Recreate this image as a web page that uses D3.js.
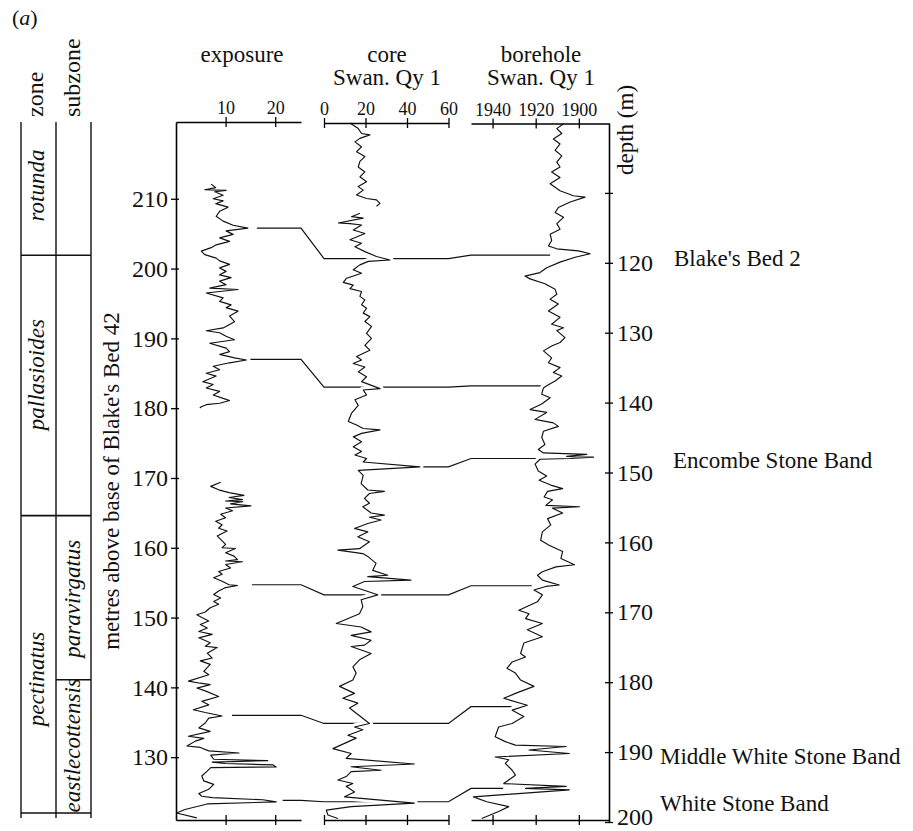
<!DOCTYPE html>
<html>
<head>
<meta charset="utf-8">
<script src="https://cdn.jsdelivr.net/npm/d3@7/dist/d3.min.js"></script>
<style>
  body { margin: 0; background: #fff; }
  svg text { font-family: "Liberation Serif", "Times New Roman", serif; fill: #111; }
</style>
</head>
<body>
<div id="log-chart"></div>
<script>
// exposure log: [metres above base of Blake's Bed 42, value]
var exposureUpper = [[212.1,7.1],[211.6,8.0],[211.3,5.8],[211.2,10.1],[211.0,7.8],[210.5,9.5],[210.0,7.5],[209.7,9.5],[209.3,8.0],[208.8,10.5],[208.2,8.8],[207.5,8.1],[206.8,9.5],[206.2,11.5],[205.8,14.5],[205.4,10.1],[204.9,11.5],[204.4,8.8],[203.9,10.8],[203.4,8.1],[203.0,7.1],[202.5,5.1],[202.0,5.8],[201.5,8.1],[201.1,8.8],[200.6,10.8],[200.1,8.8],[199.6,10.1],[199.1,8.8],[198.7,11.1],[198.2,8.8],[197.7,10.1],[197.2,6.8],[197.0,12.5],[196.5,6.1],[195.8,9.5],[195.3,8.8],[194.8,11.1],[194.4,10.1],[193.9,12.5],[193.2,10.8],[192.4,11.8],[192.0,10.8],[191.5,9.5],[191.1,6.1],[190.8,8.8],[190.3,10.1],[189.8,11.8],[189.3,6.8],[188.6,10.1],[188.1,10.8],[187.7,8.8],[187.2,11.8],[186.9,14.2],[186.5,10.8],[186.0,7.5],[185.5,8.8],[185.0,6.1],[184.6,8.1],[183.8,5.4],[183.4,7.5],[182.9,6.1],[182.4,8.8],[181.9,7.5],[181.4,9.5],[181.1,10.8],[180.7,8.8],[180.5,6.1],[180.2,5.1],[180.0,4.8]];
var exposureLower = [[169.4,9.0],[168.8,7.0],[168.3,8.6],[167.9,10.7],[167.5,13.7],[167.2,10.7],[166.9,13.4],[166.7,10.0],[166.6,13.5],[166.3,11.0],[166.0,15.1],[165.7,10.0],[165.3,11.4],[164.8,9.0],[164.3,10.0],[163.8,8.0],[163.3,9.3],[162.8,8.6],[162.4,10.3],[161.7,8.3],[161.2,9.0],[160.5,10.0],[160.0,9.3],[159.9,12.0],[159.3,10.0],[158.8,11.7],[158.3,12.4],[158.1,10.0],[158.0,13.4],[157.6,10.0],[157.1,11.0],[156.6,8.6],[156.2,9.3],[155.7,7.6],[155.2,9.3],[154.7,10.7],[154.6,12.4],[154.3,10.0],[153.8,8.6],[153.3,7.6],[152.8,9.0],[152.3,7.6],[151.9,8.6],[151.4,6.9],[150.8,5.9],[150.4,4.2],[150.0,5.2],[149.5,6.6],[149.0,4.9],[148.5,6.3],[148.0,4.6],[147.6,7.3],[147.1,4.6],[146.4,6.9],[145.9,5.9],[145.7,8.3],[144.9,6.3],[144.2,7.3],[143.8,4.9],[143.3,6.9],[142.3,5.6],[141.8,6.6],[140.9,2.5],[140.6,4.9],[140.4,6.9],[139.9,4.2],[139.5,5.9],[138.7,8.6],[138.0,5.2],[137.5,6.6],[136.8,3.5],[136.4,5.9],[135.9,9.3],[135.6,6.6],[134.9,5.9],[134.2,4.6],[133.7,6.9],[133.0,2.5],[132.7,5.6],[132.3,3.9],[131.6,2.2],[131.4,4.9],[130.9,6.6],[130.6,12.7],[130.3,7.0],[129.7,7.6],[129.5,18.5],[129.3,7.3],[129.1,10.0],[128.9,19.5],[128.6,20.2],[128.5,7.0],[128.0,6.3],[127.3,5.2],[126.6,5.6],[126.1,7.6],[125.4,6.6],[124.8,4.6],[124.4,5.2],[124.2,7.3],[123.9,17.5],[123.6,20.2],[123.3,6.3],[122.5,1.8],[122.0,0.1],[121.3,4.2]];

// core Swan. Qy 1: [depth m, value]
var coreUpper = [[100.0,12.5],[100.8,16.5],[101.5,18.1],[101.7,22.1],[102.2,17.3],[102.7,14.9],[103.4,18.1],[104.1,15.7],[104.8,19.7],[105.5,17.3],[106.3,16.5],[107.0,19.7],[107.7,17.3],[108.4,20.5],[109.1,16.5],[109.6,18.9],[110.3,15.7],[110.8,20.5],[111.0,25.3],[111.5,27.0],[111.9,25.3]];
var coreLower = [[112.9,17.3],[113.4,13.3],[113.6,18.9],[114.3,6.9],[114.4,12.5],[114.6,18.1],[115.3,14.1],[115.8,19.7],[116.7,12.5],[117.2,18.1],[117.7,14.9],[118.4,19.7],[119.1,25.3],[119.6,31.8],[119.8,21.3],[120.3,17.3],[121.0,14.1],[121.5,18.1],[122.2,10.9],[122.8,9.3],[123.2,14.1],[123.7,12.5],[124.1,18.1],[124.8,17.3],[125.3,19.7],[126.0,18.1],[126.5,20.5],[127.2,18.9],[127.7,22.1],[128.4,19.7],[129.1,22.9],[130.1,20.5],[130.8,22.9],[131.8,19.7],[132.5,22.1],[133.4,15.7],[133.9,18.1],[134.4,14.1],[134.9,19.7],[135.6,16.5],[136.3,20.5],[137.0,18.1],[138.0,27.0],[138.2,18.9],[138.9,20.5],[139.6,14.9],[140.4,16.5],[141.5,13.3],[142.7,11.7],[143.2,15.7],[143.7,18.9],[143.9,27.0],[144.4,18.1],[144.9,14.1],[145.6,18.1],[146.3,14.1],[147.0,18.1],[147.5,14.9],[148.0,20.5],[148.5,18.9],[149.2,46.2],[149.7,16.5],[150.4,18.9],[151.6,17.9],[152.5,21.1],[152.7,29.1],[153.0,21.9],[153.7,19.5],[154.4,21.9],[154.9,18.7],[155.8,22.7],[156.1,29.1],[156.4,21.9],[156.8,27.5],[157.3,21.1],[158.0,14.7],[158.5,21.1],[159.2,16.3],[159.9,21.9],[160.9,17.1],[161.1,6.7],[161.6,18.7],[162.0,21.1],[163.0,25.1],[164.0,23.5],[164.7,30.7],[164.9,21.1],[165.4,41.9],[165.6,19.5],[166.3,13.9],[167.5,25.9],[168.2,17.9],[169.2,18.7],[170.2,17.1],[171.6,5.9],[172.1,17.9],[172.8,22.7],[173.3,13.1],[174.0,22.7],[174.7,19.5],[174.9,13.1],[175.9,22.7],[176.8,17.1],[177.8,13.9],[178.7,15.5],[179.7,13.9],[180.6,7.5],[181.6,14.7],[182.3,9.1],[183.0,16.3],[183.7,12.3],[184.8,17.1],[185.9,21.9],[186.4,14.7],[186.8,18.7],[187.6,11.5],[188.0,15.5],[189.5,4.3],[190.2,13.1],[190.9,10.7],[191.7,43.5],[192.1,13.1],[192.6,27.5],[192.8,13.1],[193.5,10.7],[194.0,6.7],[194.5,13.9],[194.9,10.7],[195.7,14.7],[196.4,9.9],[197.3,43.5],[197.8,13.1],[198.3,1.1],[199.0,1.9],[199.5,6.7]];

// borehole Swan. Qy 1: [depth m, value]
var borehole = [[100.1,1907.1],[100.8,1910.2],[101.5,1907.9],[102.3,1911.8],[103.0,1908.7],[103.9,1911.0],[104.7,1907.9],[105.6,1910.2],[106.3,1908.7],[107.0,1912.6],[107.8,1908.7],[108.7,1913.3],[109.7,1908.7],[110.4,1902.5],[110.6,1897.1],[111.3,1904.0],[112.1,1909.5],[112.8,1911.0],[113.5,1907.1],[114.4,1910.2],[115.2,1908.7],[115.9,1913.3],[116.8,1912.6],[117.6,1914.1],[118.0,1910.2],[118.3,1900.2],[118.7,1894.7],[119.2,1901.7],[119.9,1908.7],[120.7,1914.9],[121.4,1918.0],[121.9,1925.0],[122.3,1922.6],[123.0,1915.7],[123.8,1911.0],[124.5,1910.2],[125.2,1913.3],[125.9,1909.5],[126.9,1914.1],[127.8,1908.7],[128.8,1912.6],[129.3,1907.1],[129.7,1910.2],[130.7,1906.4],[131.4,1908.7],[131.9,1912.6],[132.6,1916.4],[133.6,1912.6],[134.3,1914.1],[135.0,1908.7],[135.7,1911.8],[136.2,1907.9],[136.9,1911.0],[137.6,1914.9],[137.9,1916.4],[138.8,1917.2],[139.3,1913.3],[140.2,1917.2],[141.0,1922.6],[141.4,1914.9],[142.4,1920.3],[142.9,1911.8],[143.4,1909.5],[144.1,1916.4],[145.0,1917.2],[146.0,1915.7],[146.7,1918.8],[147.2,1916.4],[147.4,1896.3],[147.7,1905.6],[147.8,1893.2],[148.0,1904.0],[148.1,1918.0],[148.8,1920.3],[149.8,1918.8],[150.5,1914.9],[151.1,1918.4],[151.8,1913.0],[152.3,1907.5],[152.7,1914.5],[153.5,1916.1],[153.9,1912.2],[154.7,1915.3],[154.9,1899.7],[155.1,1912.2],[155.8,1907.5],[156.6,1914.5],[157.5,1913.0],[158.5,1916.9],[159.7,1917.7],[160.4,1913.8],[161.3,1907.5],[162.3,1908.3],[163.2,1902.0],[163.5,1910.6],[164.2,1916.9],[164.7,1919.2],[165.4,1916.9],[166.1,1909.1],[166.3,1915.3],[166.8,1920.8],[167.5,1916.9],[168.5,1919.2],[169.7,1927.8],[170.2,1923.1],[170.9,1924.7],[171.6,1916.9],[172.5,1923.9],[173.5,1916.9],[174.4,1925.5],[175.9,1927.0],[176.4,1924.7],[177.1,1930.9],[178.0,1933.3],[178.7,1929.4],[179.7,1927.0],[180.6,1920.8],[181.6,1929.4],[182.3,1934.8],[183.3,1923.9],[184.0,1930.9],[184.9,1925.5],[185.9,1930.9],[186.4,1937.2],[187.8,1938.8],[188.5,1934.1],[189.0,1929.4],[189.2,1905.9],[189.7,1923.1],[190.2,1904.4],[190.7,1938.8],[191.1,1932.5],[191.6,1934.1],[192.6,1930.9],[193.3,1929.4],[194.5,1934.8],[194.9,1905.9],[195.2,1924.7],[195.4,1904.4],[196.4,1948.9],[197.1,1942.7],[197.8,1932.5],[198.5,1937.2],[199.0,1941.1],[199.5,1945.0]];

// correlation lines between the three logs
var markerExposureHeight = [205.8, 187.0, null, 154.7, 136.0, 123.8];
var markerExposureStart = [16.3, 15.0, null, 15.3, 11.3, 21.5];
var markerCoreDepth = [119.4, 137.8, 149.2, 167.5, 185.9, 197.1];
var markerCoreStart = [0, 0, 47.7, 0, 0, 0];
var markerBoreholeDepth = [118.9, 137.6, 148.0, 166.2, 183.5, 195.2];
var markerBoreholeEnd = [1913.3, 1916.5, 1919.4, 1921.8, 1931.1, 1935.1];

// named beds on the right
var bedNames = ["Blake's Bed 2", "Encombe Stone Band", "Middle White Stone Band", "White Stone Band"];
var bedDepth = [119.3, 148.2, 190.6, 197.3];

// ammonite zones (metres above base of Blake's Bed 42)
var zoneNames = ["rotunda", "pallasioides", "pectinatus"];
var zoneTop = [221, 201.9, 164.6];
var zoneLabelAt = [211.9, 184.8, 141.2];
var subzoneNames = ["paravirgatus", "eastlecottensis"];
var subzoneTop = [164.6, 141.1];
var subzoneLabelAt = [152.7, 131.7];
var columnBase = 122;

// ticks
var heightTicks = [130, 140, 150, 160, 170, 180, 190, 200, 210];
var depthTicks = [110, 120, 130, 140, 150, 160, 170, 180, 190, 200];
var exposureTicks = [10, 20];
var coreTicks = [0, 20, 40, 60];
var boreholeTicks = [1940, 1920, 1900];

var width = 913, height = 831;
var serif = '"Liberation Serif", "Times New Roman", serif';

var svg = d3.select("#log-chart")
  .append("svg")
  .attr("width", width)
  .attr("height", height);

// scales
var yHeight = d3.scaleLinear().domain([121, 221]).range([820, 122]);
var yDepth = d3.scaleLinear().domain([100, 200]).range([123, 822]);
var xExposure = d3.scaleLinear().domain([0, 25.2]).range([176, 301]);
var xCore = d3.scaleLinear().domain([0, 60]).range([324, 448.5]);
var xBorehole = d3.scaleLinear().domain([1950, 1886]).range([471, 609]);

// correlation lines (drawn first so the logs cut through them)
var tie = d3.line();
markerCoreDepth.forEach(function (dc, i) {
  var pts = [];
  if (markerExposureHeight[i] !== null) {
    var ye = yHeight(markerExposureHeight[i]);
    pts.push([xExposure(markerExposureStart[i]), ye]);
    pts.push([xExposure(25.2), ye]);
    pts.push([xCore(0), yDepth(dc)]);
  } else {
    pts.push([xCore(markerCoreStart[i]), yDepth(dc)]);
  }
  pts.push([xCore(60), yDepth(dc)]);
  pts.push([xBorehole(1950), yDepth(markerBoreholeDepth[i])]);
  pts.push([xBorehole(markerBoreholeEnd[i]), yDepth(markerBoreholeDepth[i])]);
  svg.append("path")
    .attr("d", tie(pts))
    .attr("fill", "none")
    .attr("stroke", "#111")
    .attr("stroke-width", 1.2);
});

// the three logs
var exposureLine = d3.line()
  .x(function (d) { return xExposure(d[1]); })
  .y(function (d) { return yHeight(d[0]); });
var coreLine = d3.line()
  .x(function (d) { return xCore(d[1]); })
  .y(function (d) { return yDepth(d[0]); });
var boreholeLine = d3.line()
  .x(function (d) { return xBorehole(d[1]); })
  .y(function (d) { return yDepth(d[0]); });

var logs = [[exposureUpper, exposureLine], [exposureLower, exposureLine], [coreUpper, coreLine], [coreLower, coreLine], [borehole, boreholeLine]];

// white halo leaves the small breaks where tie lines meet a log
logs.forEach(function (s) {
  svg.append("path")
    .datum(s[0])
    .attr("d", s[1])
    .attr("fill", "none")
    .attr("stroke", "#fff")
    .attr("stroke-width", 7)
    .attr("stroke-linejoin", "round");
});
logs.forEach(function (s) {
  svg.append("path")
    .datum(s[0])
    .attr("d", s[1])
    .attr("fill", "none")
    .attr("stroke", "#111")
    .attr("stroke-width", 1.15)
    .attr("stroke-linejoin", "round");
});

// helper to make ticks cross the axis line
function crossTicks(g, horizontal, size) {
  g.selectAll(".tick line").attr(horizontal ? "y1" : "x1", size);
  g.select(".domain").attr("stroke-width", 1.6);
  g.selectAll(".tick line").attr("stroke-width", 1.3);
  g.attr("font-family", serif);
}

// top and bottom axes of the three panels
var topAxes = [
  { scale: xExposure, ticks: exposureTicks, y: 122 },
  { scale: xCore, ticks: coreTicks, y: 123 },
  { scale: xBorehole, ticks: boreholeTicks, y: 123.5 }
];
topAxes.forEach(function (a) {
  svg.append("g")
    .attr("transform", "translate(0," + a.y + ")")
    .call(d3.axisTop(a.scale).tickValues(a.ticks).tickSize(5).tickSizeOuter(0).tickPadding(3).tickFormat(d3.format("d")))
    .call(crossTicks, true, 5)
    .selectAll("text")
    .attr("font-size", "18px");

  svg.append("g")
    .attr("transform", "translate(0,820)")
    .call(d3.axisBottom(a.scale).tickValues(a.ticks).tickSize(5).tickSizeOuter(0).tickFormat(""))
    .call(crossTicks, true, -5);
});

// left axis
svg.append("g")
  .attr("transform", "translate(176,0)")
  .call(d3.axisLeft(yHeight).tickValues(heightTicks).tickSize(5).tickSizeOuter(0).tickPadding(3))
  .call(crossTicks, false, 3)
  .selectAll("text")
  .attr("font-size", "24px");

// right axis
svg.append("g")
  .attr("transform", "translate(609,0)")
  .call(d3.axisRight(yDepth).tickValues(depthTicks).tickSize(4).tickSizeOuter(0).tickPadding(4)
    .tickFormat(function (d) { return d === 110 ? "" : d; }))
  .call(crossTicks, false, -4)
  .selectAll("text")
  .attr("font-size", "24px")
  .attr("dy", function (d) { return d === 200 ? "0.1em" : "0.32em"; });

// zone columns
var zoneX = [21, 56, 91];
zoneX.forEach(function (x) {
  svg.append("line")
    .attr("x1", x).attr("x2", x)
    .attr("y1", yHeight(221)).attr("y2", yHeight(columnBase) + 5)
    .attr("stroke", "#111").attr("stroke-width", 1.4);
});
svg.append("line")
  .attr("x1", zoneX[0]).attr("x2", zoneX[2])
  .attr("y1", yHeight(columnBase)).attr("y2", yHeight(columnBase))
  .attr("stroke", "#111").attr("stroke-width", 1.4);
zoneTop.slice(1).forEach(function (h) {
  svg.append("line")
    .attr("x1", zoneX[0]).attr("x2", zoneX[2])
    .attr("y1", yHeight(h)).attr("y2", yHeight(h))
    .attr("stroke", "#111").attr("stroke-width", 1.6);
});
subzoneTop.slice(1).forEach(function (h) {
  svg.append("line")
    .attr("x1", zoneX[1]).attr("x2", zoneX[2])
    .attr("y1", yHeight(h)).attr("y2", yHeight(h))
    .attr("stroke", "#111").attr("stroke-width", 1.6);
});

zoneNames.forEach(function (name, i) {
  svg.append("text")
    .attr("transform", "translate(44," + yHeight(zoneLabelAt[i]) + ")rotate(-90)")
    .attr("text-anchor", "middle")
    .attr("font-style", "italic")
    .style("font-size", "23px")
    .text(name);
});
subzoneNames.forEach(function (name, i) {
  svg.append("text")
    .attr("transform", "translate(80," + yHeight(subzoneLabelAt[i]) + ")rotate(-90)")
    .attr("text-anchor", "middle")
    .attr("font-style", "italic")
    .style("font-size", "23px")
    .text(name);
});

// column headers
svg.append("text")
  .attr("transform", "translate(43,117)rotate(-90)")
  .style("font-size", "24px")
  .text("zone");
svg.append("text")
  .attr("transform", "translate(80,117)rotate(-90)")
  .style("font-size", "24px")
  .text("subzone");

var panelTitle = [
  { x: 242, lines: ["exposure"] },
  { x: 387, lines: ["core", "Swan. Qy 1"] },
  { x: 541, lines: ["borehole", "Swan. Qy 1"] }
];
panelTitle.forEach(function (p) {
  p.lines.forEach(function (t, j) {
    svg.append("text")
      .attr("x", p.x)
      .attr("y", 62 + j * 23)
      .attr("text-anchor", "middle")
      .style("font-size", "23px")
      .text(t);
  });
});

svg.append("text")
  .attr("transform", "translate(633,175)rotate(-90)")
  .style("font-size", "23px")
  .text("depth (m)");

svg.append("text")
  .attr("transform", "translate(119,481)rotate(-90)")
  .attr("text-anchor", "middle")
  .style("font-size", "23px")
  .text("metres above base of Blake's Bed 42");

var label = svg.append("text")
  .attr("x", 12)
  .attr("y", 25)
  .style("font-size", "22px");
label.append("tspan").text("(");
label.append("tspan").attr("font-style", "italic").text("a");
label.append("tspan").text(")");

// bed names
var bedX = [674, 673, 660, 660];
bedNames.forEach(function (name, i) {
  svg.append("text")
    .attr("x", bedX[i])
    .attr("y", yDepth(bedDepth[i]) + 8)
    .style("font-size", "23px")
    .text(name);
});
</script>
</body>
</html>
